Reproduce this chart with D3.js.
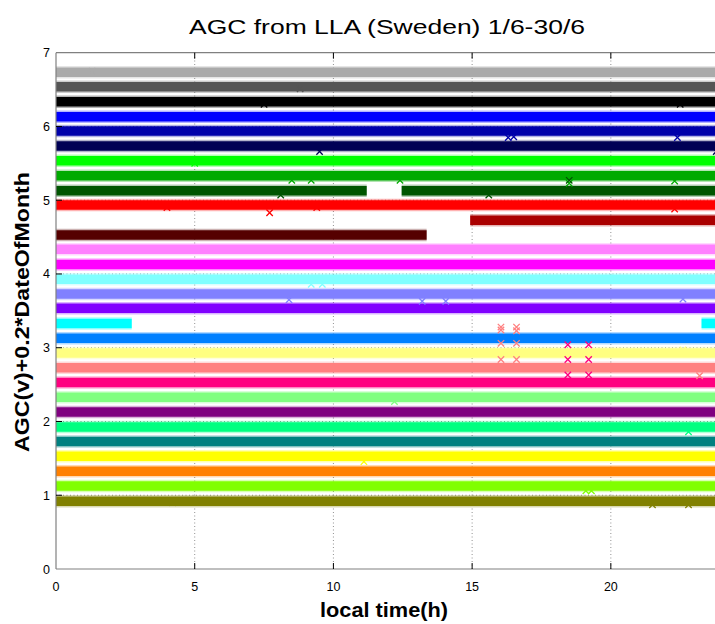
<!DOCTYPE html>
<html><head><meta charset="utf-8">
<script src="https://cdn.jsdelivr.net/npm/d3@7"></script>
<style>
html,body{margin:0;padding:0;background:#fff;}
svg text{font-family:"Liberation Sans",Arial,Helvetica,sans-serif;}
</style></head>
<body><svg id="c" width="715" height="624"></svg>
<script>
// ---- data ----
const days = [1,2,3,4,5,6,7,8,9,10,11,12,13,14,15,16,17,18,19,20,21,22,23,24,25,26,27,28,29,30];
const levels = [0.92,1.125,1.325,1.53,1.73,1.925,2.13,2.33,2.53,2.73,2.93,3.13,3.33,3.535,3.73,3.93,4.13,4.335,4.53,4.73,4.935,5.13,5.33,5.535,5.735,5.94,6.13,6.335,6.54,6.735];
const colors = ["#808000","#80ff00","#ff8000","#ffff00","#008080","#00ff80","#800080","#80ff80","#ff0080","#ff8080",
                "#ffff80","#0080ff","#00ffff","#8000ff","#8080ff","#80ffff","#ff00ff","#ff80ff","#550000","#aa0000",
                "#ff0000","#005500","#00aa00","#00ff00","#000055","#0000aa","#0000ff","#000000","#555555","#aaaaaa"];
// coverage (hours) where data exists; days not listed cover the full day
const coverage = {13:[[0,2.73],[23.27,24]], 19:[[0,13.36]], 20:[[14.93,24]], 22:[[0,11.2],[12.46,24]]};
// isolated outlier samples: [day, hour, value]
const outliers = [
  [10,16.04,3.28],[10,16.04,3.24],[10,16.04,3.06],[10,16.04,2.84],[10,16.6,3.28],[10,16.6,3.23],[10,16.6,3.06],[10,16.6,2.84],
  [9,18.45,3.04],[9,18.45,2.84],[9,18.45,2.63],[9,19.2,3.04],[9,19.2,2.84],[9,19.2,2.63],
  [26,16.3,5.85],[26,16.5,5.86],[26,22.4,5.85],[15,13.2,3.63],[15,14.05,3.63],[15,22.6,3.66],[15,8.4,3.65],
  [16,9.2,3.86],[16,9.6,3.86],[21,7.7,4.83],[21,4.0,4.9],[21,22.3,4.88],[21,9.4,4.9],
  [23,12.4,5.27],[23,18.5,5.23],[23,22.3,5.26],[23,8.5,5.27],[23,9.2,5.27],[22,15.6,5.07],[22,8.1,5.07],[22,18.5,5.27],
  [25,9.5,5.66],[25,23.8,5.66],[24,5.0,5.5],[4,11.1,1.455],[8,12.2,2.27],[6,22.8,1.86],[2,19.1,1.06],[2,19.3,1.06],
  [1,21.5,0.87],[1,22.8,0.87],[1,4.2,0.9],[28,7.5,6.3],[28,22.5,6.3],[29,8.8,6.51],[30,1.3,6.75],[11,22.6,2.97],[10,23.2,2.62]
];
const xTicks = [0,5,10,15,20];
const yTicks = [0,1,2,3,4,5,6,7];

// ---- layout ----
const svg = d3.select("#c");
const x = d3.scaleLinear().domain([0,24]).range([56,721.8]);
const y = d3.scaleLinear().domain([0,7]).range([569,52.7]);

// grid
const grid = svg.append("g").attr("stroke","#000").attr("stroke-opacity",0.55).attr("stroke-width",0.8).attr("stroke-dasharray","1,2.5");
grid.selectAll("line.gx").data(xTicks.filter(d=>d>0)).join("line")
  .attr("x1",d=>x(d)).attr("x2",d=>x(d)).attr("y1",y(0)).attr("y2",y(7));
grid.selectAll("line.gy").data(yTicks.filter(d=>d>0&&d<7)).join("line")
  .attr("x1",x(0)).attr("x2",x(24)).attr("y1",d=>y(d)).attr("y2",d=>y(d));

// bands
const segs = [];
days.forEach((d,i)=>{
  (coverage[d]||[[0,24]]).forEach(s=>segs.push({day:d, lev:levels[i], col:colors[i], a:s[0], b:s[1]}));
});
// soft fringe
svg.append("g").selectAll("line").data(segs).join("line")
  .attr("x1",d=>x(d.a)).attr("x2",d=>x(d.b))
  .attr("y1",d=>y(d.lev)).attr("y2",d=>y(d.lev))
  .attr("stroke",d=>d.col).attr("stroke-width",12.5).attr("stroke-opacity",0.3);
svg.append("g").selectAll("line").data(segs).join("line")
  .attr("x1",d=>x(d.a)).attr("x2",d=>x(d.b))
  .attr("y1",d=>y(d.lev)).attr("y2",d=>y(d.lev))
  .attr("stroke",d=>d.col).attr("stroke-width",9.5);

// outliers as x markers
const om = svg.append("g").attr("stroke-width",1.3);
outliers.forEach(o=>{
  const cx = x(o[1]), cy = y(o[2]), r = 3.2, col = colors[days.indexOf(o[0])];
  om.append("path").attr("d",`M${cx-r},${cy-r}L${cx+r},${cy+r}M${cx-r},${cy+r}L${cx+r},${cy-r}`).attr("stroke",col);
});

// axes frame
const ax = svg.append("g").attr("stroke","#808080").attr("stroke-width",1.2);
ax.append("line").attr("x1",x(0)).attr("x2",715).attr("y1",y(0)).attr("y2",y(0));
ax.append("line").attr("x1",x(0)).attr("x2",715).attr("y1",y(7)).attr("y2",y(7));
ax.append("line").attr("x1",x(0)).attr("x2",x(0)).attr("y1",y(0)).attr("y2",y(7));

const tk = svg.append("g").attr("stroke","#000").attr("stroke-width",1);
xTicks.filter(d=>d>0).forEach(d=>{
  tk.append("line").attr("x1",x(d)).attr("x2",x(d)).attr("y1",y(0)).attr("y2",y(0)-6);
  tk.append("line").attr("x1",x(d)).attr("x2",x(d)).attr("y1",y(7)).attr("y2",y(7)+6);
});
yTicks.filter(d=>d>0&&d<7).forEach(d=>{
  tk.append("line").attr("x1",x(0)).attr("x2",x(0)+6).attr("y1",y(d)).attr("y2",y(d));
});

// tick labels
svg.append("g").selectAll("text").data(xTicks).join("text")
  .attr("x",d=>x(d)).attr("y",591).attr("text-anchor","middle")
  .attr("font-size",12.5).text(d=>d);
svg.append("g").selectAll("text").data(yTicks).join("text")
  .attr("x",50).attr("y",d=>y(d)+4.5).attr("text-anchor","end")
  .attr("font-size",12.5).text(d=>d);

// titles
svg.append("text").attr("x",387).attr("y",34).attr("text-anchor","middle")
  .attr("font-size",20).attr("textLength",396).attr("lengthAdjust","spacingAndGlyphs")
  .text("AGC from LLA (Sweden) 1/6-30/6");
svg.append("text").attr("x",384).attr("y",617).attr("text-anchor","middle")
  .attr("font-size",20).attr("font-weight","bold").attr("textLength",128).attr("lengthAdjust","spacingAndGlyphs")
  .text("local time(h)");
svg.append("text").attr("transform","translate(29,312) rotate(-90)").attr("text-anchor","middle")
  .attr("font-size",20).attr("font-weight","bold").attr("textLength",280).attr("lengthAdjust","spacingAndGlyphs")
  .text("AGC(v)+0.2*DateOfMonth");
</script></body></html>
